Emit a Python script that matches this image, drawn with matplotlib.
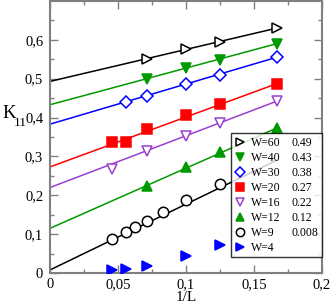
import matplotlib
matplotlib.use("Agg")
import matplotlib.pyplot as plt
from matplotlib.lines import Line2D

# -- data --
# x values are 1/L for L = 22, 18, 16, 14, 12, 10, 8, 6
x60 = [1 / 14, 1 / 10, 1 / 8, 1 / 6]
y60 = [0.550, 0.575, 0.595, 0.630]
x40 = [1 / 14, 1 / 10, 1 / 8, 1 / 6]
y40 = [0.500, 0.527, 0.549, 0.590]
x30 = [1 / 18, 1 / 14, 1 / 10, 1 / 8, 1 / 6]
y30 = [0.440, 0.456, 0.486, 0.510, 0.555]
x20 = [1 / 22, 1 / 18, 1 / 14, 1 / 10, 1 / 8, 1 / 6]
y20 = [0.336, 0.336, 0.371, 0.406, 0.436, 0.487]
x16 = [1 / 22, 1 / 14, 1 / 10, 1 / 8, 1 / 6]
y16 = [0.268, 0.313, 0.352, 0.385, 0.442]
x12 = [1 / 14, 1 / 10, 1 / 8, 1 / 6]
y12 = [0.225, 0.272, 0.310, 0.373]
x9 = [1 / 22, 1 / 18, 1 / 16, 1 / 14, 1 / 12, 1 / 10, 1 / 8]
y9 = [0.087, 0.105, 0.118, 0.135, 0.157, 0.187, 0.228]
x4 = [1 / 22, 1 / 18, 1 / 14, 1 / 10, 1 / 8]
y4 = [0.007, 0.010, 0.019, 0.043, 0.071]

# fitted lines: value at 1/L = 0 (also shown in legend) and at 1/L = 1/6
labels = ["W=60", "W=40", "W=30", "W=20", "W=16", "W=12", "W=9", "W=4"]
intercepts = ["0.49", "0.43", "0.38", "0.27", "0.22", "0.12", "0.008", " "]
fit_start = [0.493, 0.433, 0.383, 0.273, 0.220, 0.115, 0.008]
fit_end = [0.630, 0.590, 0.555, 0.487, 0.442, 0.373, 0.290]

xticks = [0, 0.05, 0.1, 0.15, 0.2]
xticklabels = ["0", "0,05", "0,1", "0,15", "0,2"]
yticks = [0, 0.1, 0.2, 0.3, 0.4, 0.5, 0.6]
yticklabels = ["0", "0,1", "0,2", "0,3", "0,4", "0,5", "0,6"]

GREEN = "#009a00"
PURPLE = "#9a3fd0"
series = [
    (x60, y60, dict(marker=">", mfc="white", mec="black", color="black")),
    (x40, y40, dict(marker="v", mfc=GREEN, mec=GREEN, color=GREEN)),
    (x30, y30, dict(marker="D", mfc="white", mec="#0000ff", color="#0000ff", ms=6)),
    (x20, y20, dict(marker="s", mfc="#ff0000", mec="#ff0000", color="#ff0000")),
    (x16, y16, dict(marker="v", mfc="white", mec=PURPLE, color=PURPLE)),
    (x12, y12, dict(marker="^", mfc=GREEN, mec=GREEN, color=GREEN)),
    (x9, y9, dict(marker="o", mfc="white", mec="black", color="black")),
    (x4, y4, dict(marker=">", mfc="#0000ff", mec="#0000ff", color="#0000ff")),
]

plt.rcParams["font.family"] = ["Liberation Serif", "DejaVu Serif"]

fig = plt.figure(figsize=(3.32, 3.04), dpi=100)
ax = fig.add_axes([0.151, 0.102, 0.819, 0.895])

handles = []
for i, (xs, ys, st) in enumerate(series):
    ms = st.pop("ms", 7.5)
    color = st.pop("color")
    if i < len(fit_start):
        ax.plot([0, 1 / 6], [fit_start[i], fit_end[i]], color=color, lw=1.1, zorder=2)
    h, = ax.plot(xs, ys, ls="none", ms=ms, mew=1.1, zorder=3, label=labels[i], **st)
    handles.append(h)

ax.set_xlim(0, 0.2)
ax.set_ylim(0, 0.7)
ax.set_xticks(xticks)
ax.set_xticklabels(xticklabels)
ax.set_yticks(yticks)
ax.set_yticklabels(yticklabels)
ax.set_xticks([0.025, 0.075, 0.125, 0.175], minor=True)
ax.set_yticks([0.05, 0.15, 0.25, 0.35, 0.45, 0.55, 0.65], minor=True)
ax.tick_params(which="both", direction="in", top=True, right=True,
               color="#808080", labelsize=10.5, labelcolor="black")
ax.tick_params(which="major", length=6, width=1)
ax.tick_params(which="minor", length=3, width=1)
ax.tick_params(axis="y", pad=5)
for sp in ax.spines.values():
    sp.set_color("#808080")
    sp.set_linewidth(1.5)

fig.text(0.56, 0.023, "1/L", fontsize=11, ha="center", va="center")
fig.text(0.006, 0.628, "K", fontsize=13.5, ha="left", va="center")
fig.text(0.042, 0.594, "11", fontsize=9.5, ha="left", va="center")

# second legend column: intercept values with invisible handles
blank = [Line2D([], [], ls="none", marker="none") for _ in intercepts]
leg = ax.legend(handles=handles + blank, labels=labels + intercepts, ncol=2,
                loc="lower right", bbox_to_anchor=(1.0, 0.058),
                fontsize=8.5, frameon=True, fancybox=False, borderpad=0.3,
                labelspacing=0.25, handlelength=0.8, handletextpad=0.6,
                columnspacing=-0.5, borderaxespad=0.0, markerscale=0.8)
leg.get_frame().set_edgecolor("black")
leg.get_frame().set_linewidth(1.0)

fig.savefig("out.png", dpi=100)
